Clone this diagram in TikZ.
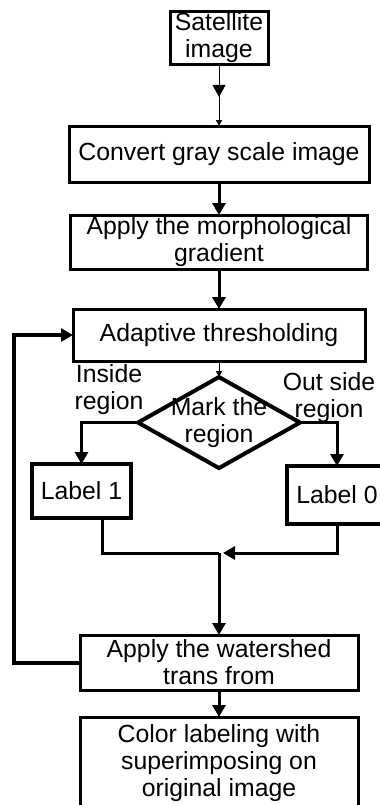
\documentclass[tikz,border=0pt]{standalone}
\usepackage{fontspec}
\setmainfont{Liberation Sans}
\usetikzlibrary{arrows.meta, positioning, shapes.geometric, decorations.markings}

\begin{document}
\begin{tikzpicture}[x=0.5pt, y=-0.5pt,
    >={Triangle[length=6pt,width=6.5pt]},
    every node/.style={font=\fontsize{12.4}{13.5}\selectfont, align=center, inner sep=0.5pt, outer sep=0pt},
    block/.style={draw, line width=1.5pt, minimum height=27pt},
    labelbox/.style={draw, line width=2pt, minimum height=27pt},
    decision/.style={diamond, draw, line width=2pt, minimum width=81pt, minimum height=45.5pt, inner sep=0pt},
    flow/.style={line width=1.5pt, ->},
    thinflow/.style={line width=0.5pt, -{Triangle[length=3pt,width=3pt]}}]

    \useasboundingbox (0,0) rectangle (380,805);
    \clip (0,0) rectangle (380,805);

    \node[block, minimum width=49pt, minimum height=26pt] (sat) at (219,38) {Satellite\\image};
    \node[block, minimum width=150pt, minimum height=28pt] (conv) [below=31pt of sat] {Convert gray scale image};
    \node[block, minimum width=148.5pt] (morph) [below=16.5pt of conv] {Apply the morphological\\gradient};
    \node[block, minimum width=146pt, minimum height=26pt] (adapt) [below=20pt of morph] {Adaptive thresholding};
    \node[decision] (mark) [below=8pt of adapt] {};
    \node (marktext) at (mark.center) {Mark the\\region};

    \node (inlab) at (109,390) {Inside\\region};
    \node (outlab) at (329,398) {Out side\\region};

    \node[labelbox, minimum width=49.5pt] (lab1) at (81.5,491) {Label 1};
    \node[labelbox, minimum width=50pt, minimum height=29pt] (lab0) at (337,495) {Label 0};
    \coordinate (join) at (219,553);

    \node[block, minimum width=139pt, minimum height=27.5pt] (water) at (219,662.5) {Apply the watershed\\trans from};
    \node[block, minimum width=139pt, minimum height=46pt] (color) [below=13.5pt of water] {Color labeling with\\superimposing on\\original image};

    \draw[thinflow, postaction={decorate},
        decoration={markings, mark=at position 0.53 with {\arrow{Triangle[length=6pt,width=6.5pt]}}}]
        (sat) -- (conv);
    \draw[flow] (conv) -- (morph);
    \draw[flow] (morph) -- (adapt);
    \draw[thinflow] (adapt) -- (mark);
    \draw[flow] (mark.west) -| (lab1);
    \draw[flow] (mark.east) -| (lab0);
    \draw[line width=1.5pt] ([xshift=10.25pt]lab1.south) |- (join);
    \draw[flow] (lab0.south) |- ([xshift=2pt]join);
    \draw[flow] (join) -- (water);
    \draw[flow, line width=2pt] (water.west) -- ++(-66,0) |- (adapt.west);
    \draw[flow] (water) -- (color);
\end{tikzpicture}
\end{document}
